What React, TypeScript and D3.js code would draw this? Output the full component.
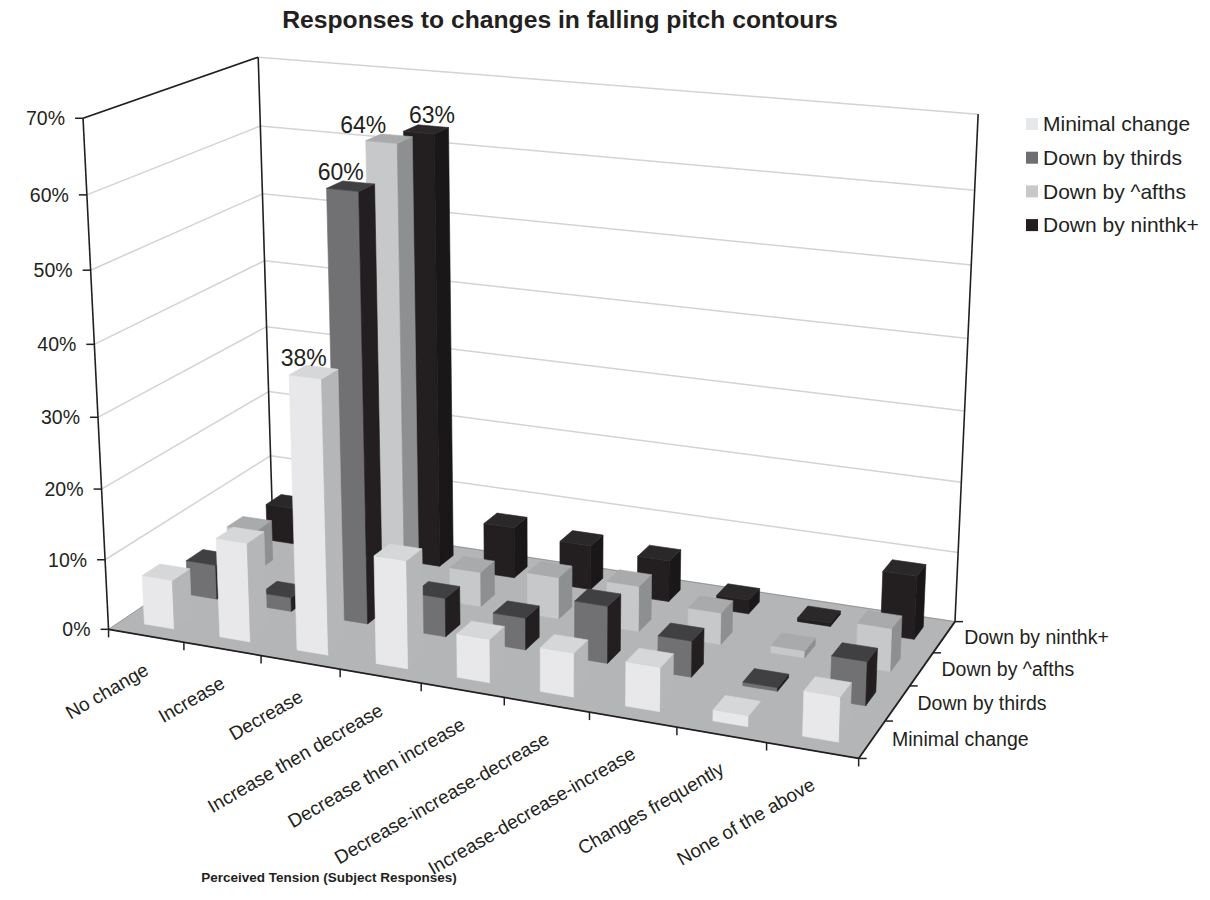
import React from "react";
import * as d3 from "d3";

// ---------- data ----------
const categories = [
  "No change",
  "Increase",
  "Decrease",
  "Increase then decrease",
  "Decrease then increase",
  "Decrease-increase-decrease",
  "Increase-decrease-increase",
  "Changes frequently",
  "None of the above",
];
const seriesNames = ["Minimal change", "Down by thirds", "Down by ^afths", "Down by ninthk+"];
const minimalChange = [7, 14, 38, 15, 6, 6, 6, 1.5, 6];
const downByThirds = [5, 2, 60, 5.5, 4.5, 8, 5, 0.5, 6];
const downByFifths = [6, 4, 64, 5, 6, 6.5, 4.5, 1, 6];
const downByNinth = [5.5, 3, 63, 7.5, 6.5, 6, 2, 0.5, 9];
const seriesValues = [minimalChange, downByThirds, downByFifths, downByNinth];
const yTicks = [0, 10, 20, 30, 40, 50, 60, 70];
const labelledCategory = "Decrease";
const title = "Responses to changes in falling pitch contours";
const xTitle = "Perceived Tension (Subject Responses)";

// ---------- styles ----------
const seriesColors = [
  { front: "#e8e8ea", top: "#d6d7d9", side: "#b5b6b8", legend: "#e6e7e8" },
  { front: "#717174", top: "#404042", side: "#231f20", legend: "#6d6e71" },
  { front: "#c7c8ca", top: "#a9aaac", side: "#8e8f91", legend: "#c7c8ca" },
  { front: "#231f20", top: "#2b2829", side: "#1a1718", legend: "#231f20" },
];
const FONT = "'Liberation Sans', Arial, Helvetica, sans-serif";
const LABEL_FS = 23;

// ---------- camera calibration (unit box -> screen) ----------
// [u (category), v (depth), w (height), screenX, screenY]
const calib: number[][] = [
  [0, 0, 0, 109, 627], [1, 0, 0, 857, 758], [1, 1, 0, 953, 621], [0, 1, 0, 272, 522],
  [1 / 9, 0, 0, 185, 642], [2 / 9, 0, 0, 262, 656], [4 / 9, 0, 0, 420, 683], [5 / 9, 0, 0, 503, 698],
  [6 / 9, 0, 0, 588, 715], [7 / 9, 0, 0, 675, 729], [8 / 9, 0, 0, 765, 745],
  [1, 0.25, 0, 888, 718], [1, 0.5, 0, 913, 683], [1, 0.75, 0, 937, 652],
  [0, 0, 1 / 7, 105.6, 560], [0, 0, 2 / 7, 101.9, 489], [0, 0, 3 / 7, 98.3, 418], [0, 0, 4 / 7, 94.5, 344],
  [0, 0, 5 / 7, 90.7, 269], [0, 0, 6 / 7, 86.8, 194], [0, 0, 1, 83, 119],
  [0, 1, 1, 258, 56], [0, 1, 6 / 7, 260, 126], [0, 1, 5 / 7, 262, 194], [0, 1, 4 / 7, 265, 260],
  [0, 1, 3 / 7, 267, 327], [0, 1, 1 / 7, 270, 455],
  [1, 1, 1, 980, 115], [1, 1, 6 / 7, 973, 192], [1, 1, 1 / 7, 956, 552],
];

function fitProjection(pts: number[][]) {
  const cx = 500, cy = 400, s = 500, n = 11;
  const A = Array.from({ length: n }, () => new Array(n + 1).fill(0));
  const add = (r: number[], b: number) => {
    for (let i = 0; i < n; i++) {
      for (let j = 0; j < n; j++) A[i][j] += r[i] * r[j];
      A[i][n] += r[i] * b;
    }
  };
  for (const [u, v, w, X, Y] of pts) {
    const x = (X - cx) / s, y = (Y - cy) / s;
    add([u, v, w, 1, 0, 0, 0, 0, -x * u, -x * v, -x * w], x);
    add([0, 0, 0, 0, u, v, w, 1, -y * u, -y * v, -y * w], y);
  }
  for (let c = 0; c < n; c++) {
    let piv = c;
    for (let r = c + 1; r < n; r++) if (Math.abs(A[r][c]) > Math.abs(A[piv][c])) piv = r;
    [A[c], A[piv]] = [A[piv], A[c]];
    for (let r = 0; r < n; r++) {
      if (r === c) continue;
      const f = A[r][c] / A[c][c];
      for (let k = c; k <= n; k++) A[r][k] -= f * A[c][k];
    }
  }
  const p = A.map((row, i) => row[n] / row[i]);
  return (u: number, v: number, w: number): [number, number] => {
    const d = p[8] * u + p[9] * v + p[10] * w + 1;
    return [
      cx + (s * (p[0] * u + p[1] * v + p[2] * w + p[3])) / d,
      cy + (s * (p[4] * u + p[5] * v + p[6] * w + p[7])) / d,
    ];
  };
}

const proj = fitProjection(calib);

const xBand = d3.scaleBand<string>().domain(categories).range([0, 1]).paddingInner(0.6).paddingOuter(0.3);
const zBand = d3.scaleBand<string>().domain(seriesNames).range([0, 1]).paddingInner(0.6).paddingOuter(0.3);
const yScale = d3.scaleLinear().domain([0, 70]).range([0, 1]);
const xSlot = d3.scaleLinear().domain([0, categories.length]).range([0, 1]);
const zSlot = d3.scaleLinear().domain([0, seriesNames.length]).range([0, 1]);

const pathOf = (pts: [number, number, number][]) =>
  d3.line()(pts.map(([u, v, w]) => proj(u, v, w))) + "Z";

export default function App() {
  // bars, back rows first, left to right
  const bars: React.ReactNode[] = [];
  for (let j = seriesNames.length - 1; j >= 0; j--) {
    categories.forEach((cat, i) => {
      const val = seriesValues[j][i];
      const u0 = xBand(cat)!, u1 = u0 + xBand.bandwidth();
      const v0 = zBand(seriesNames[j])!, v1 = v0 + zBand.bandwidth();
      const h = yScale(val);
      const c = seriesColors[j];
      const faces: [string, [number, number, number][]][] = [
        [c.front, [[u0, v0, 0], [u1, v0, 0], [u1, v0, h], [u0, v0, h]]],
        [c.side, [[u1, v0, 0], [u1, v1, 0], [u1, v1, h], [u1, v0, h]]],
        [c.top, [[u0, v0, h], [u1, v0, h], [u1, v1, h], [u0, v1, h]]],
      ];
      bars.push(
        <g key={`b-${j}-${i}`}>
          {faces.map(([col, pts], k) => (
            <path key={k} d={pathOf(pts)} fill={col} stroke={col} strokeWidth={0.6} strokeLinejoin="round" />
          ))}
        </g>
      );
    });
  }

  // data labels with simple horizontal collision avoidance
  const li = categories.indexOf(labelledCategory);
  const lab = seriesNames.map((sName, j) => {
    const val = seriesValues[j][li];
    const uc = xBand(labelledCategory)! + xBand.bandwidth() / 2;
    const vc = zBand(sName)! + zBand.bandwidth() / 2;
    const [x, y] = proj(uc, vc, yScale(val));
    return { j, val, x: x - 10, y: y - 6 };
  });
  const lw = LABEL_FS * 1.95;
  for (let a = 0; a < lab.length; a++) {
    for (let b = a + 1; b < lab.length; b++) {
      const A = lab[a], B = lab[b];
      const vOverlap = Math.abs(A.y - B.y) < LABEL_FS * 0.8;
      const hOverlap = Math.abs(A.x - B.x) < lw;
      if (vOverlap && hOverlap) {
        const need = (lw + 24 - Math.abs(A.x - B.x)) / 2;
        if (A.x <= B.x) { A.x -= need; B.x += need; } else { A.x += need; B.x -= need; }
      }
    }
  }

  const floor = pathOf([[0, 0, 0], [1, 0, 0], [1, 1, 0], [0, 1, 0]]);
  const leftWall = pathOf([[0, 0, 0], [0, 1, 0], [0, 1, 1], [0, 0, 1]]);
  const backWall = pathOf([[0, 1, 0], [1, 1, 0], [1, 1, 1], [0, 1, 1]]);
  const seg = (a: [number, number, number], b: [number, number, number]) => {
    const [x1, y1] = proj(...a);
    const [x2, y2] = proj(...b);
    return { x1, y1, x2, y2 };
  };

  return (
    <svg width={1210} height={900} style={{ position: "absolute", left: 0, top: 0, background: "#fff" }} fontFamily={FONT}>
      <text x={560} y={28} textAnchor="middle" fontWeight="bold" fontSize={24.7} fill="#231f20">
        {title}
      </text>

      <path d={leftWall} fill="#fff" />
      <path d={backWall} fill="#fff" />
      {yTicks.map((t) => (
        <g key={`g${t}`}>
          {t > 0 && <line {...seg([0, 0, yScale(t)], [0, 1, yScale(t)])} stroke="#d2d3d5" strokeWidth={1.5} />}
          <line {...seg([0, 1, yScale(t)], [1, 1, yScale(t)])} stroke="#d2d3d5" strokeWidth={1.5} />
        </g>
      ))}
      <path d={floor} fill="#b4b5b7" stroke="#8a8b8d" strokeWidth={0.8} />

      {/* wall edges */}
      <line {...seg([0, 0, 0], [0, 0, 1])} stroke="#231f20" strokeWidth={1.6} />
      <line {...seg([0, 0, 1], [0, 1, 1])} stroke="#231f20" strokeWidth={1.6} />
      <line {...seg([0, 1, 0], [0, 1, 1])} stroke="#231f20" strokeWidth={1.6} />
      <line {...seg([1, 1, 0], [1, 1, 1])} stroke="#231f20" strokeWidth={1.6} />

      {/* value axis */}
      {yTicks.map((t) => {
        const [x, y] = proj(0, 0, yScale(t));
        return (
          <g key={`yt${t}`}>
            <line x1={x - 8} y1={y} x2={x} y2={y} stroke="#231f20" strokeWidth={1.5} />
            <text x={x - 18} y={y} dy="0.35em" textAnchor="end" fontSize={19.5} fill="#231f20">
              {`${t}%`}
            </text>
          </g>
        );
      })}

      {bars}

      {/* category axis */}
      <line {...seg([0, 0, 0], [1, 0, 0])} stroke="#231f20" strokeWidth={1.8} />
      {d3.range(categories.length + 1).map((k) => {
        const [x, y] = proj(xSlot(k), 0, 0);
        return <line key={`xt${k}`} x1={x} y1={y} x2={x} y2={y + 8} stroke="#231f20" strokeWidth={1.5} />;
      })}
      {categories.map((cat, i) => {
        const [x, y] = proj(xSlot(i + 0.5), 0, 0);
        const ax = x + 4, ay = y + 38;
        return (
          <text key={`xl${i}`} x={ax} y={ay} textAnchor="end" fontSize={19} fill="#231f20" transform={`rotate(-30 ${ax} ${ay})`}>
            {cat}
          </text>
        );
      })}

      {/* depth axis */}
      <line {...seg([1, 0, 0], [1, 1, 0])} stroke="#231f20" strokeWidth={1.8} />
      {d3.range(seriesNames.length + 1).map((k) => {
        const [x, y] = proj(1, zSlot(k), 0);
        return <line key={`zt${k}`} x1={x} y1={y} x2={x + 8} y2={y} stroke="#231f20" strokeWidth={1.5} />;
      })}
      {seriesNames.map((s, j) => {
        const [x, y] = proj(1, zSlot(j + 0.5), 0);
        return (
          <text key={`zl${j}`} x={x + 20} y={y + 7} fontSize={19.5} fill="#231f20">
            {s}
          </text>
        );
      })}

      {lab.map((l) => (
        <text key={`l${l.j}`} x={l.x} y={l.y} textAnchor="middle" fontSize={LABEL_FS} fill="#231f20">
          {`${l.val}%`}
        </text>
      ))}

      <text x={329} y={882} textAnchor="middle" fontWeight="bold" fontSize={13.5} fill="#231f20">
        {xTitle}
      </text>

      {/* legend */}
      {seriesNames.map((s, j) => {
        const y = 124 + j * 33.7;
        return (
          <g key={`lg${j}`}>
            <rect x={1026} y={y - 6} width={12} height={12} fill={seriesColors[j].legend} />
            <text x={1043} y={y} dy="0.35em" fontSize={21} fill="#231f20">
              {s}
            </text>
          </g>
        );
      })}
    </svg>
  );
}
